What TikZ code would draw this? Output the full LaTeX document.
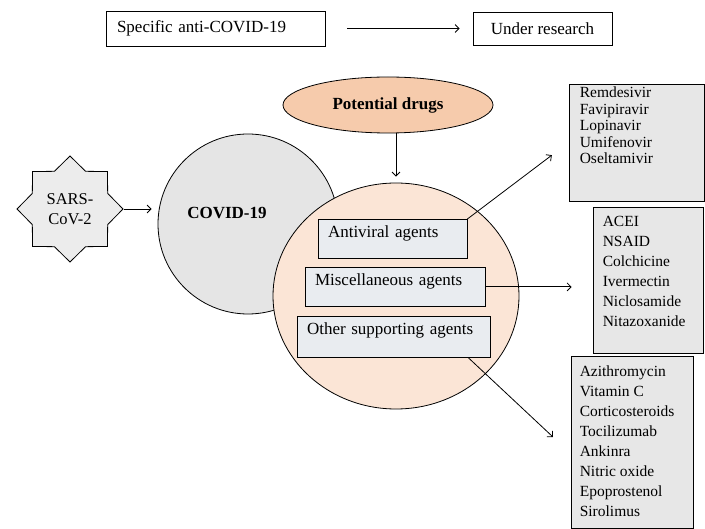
\documentclass[tikz,border=0pt]{standalone}
\usepackage{fontspec}
\setmainfont{Liberation Serif}
\usetikzlibrary{shapes.geometric,arrows.meta}

\definecolor{peachlight}{RGB}{251,229,214}
\definecolor{peach}{RGB}{246,203,172}
\definecolor{covgray}{RGB}{229,229,229}
\definecolor{stargray}{RGB}{236,236,236}
\definecolor{listgray}{RGB}{231,231,231}
\definecolor{agentgray}{RGB}{233,236,240}

\tikzset{
  plainbox/.style={draw, fill=white, line width=0.8pt, font=\fontsize{17}{20}\selectfont},
  agentbox/.style={draw, fill=agentgray, line width=0.8pt, anchor=north, align=left,
    inner xsep=10pt, inner ysep=3pt, text height=15pt, text depth=18pt,
    font=\fontsize{17}{20}\selectfont},
  listbox/.style={draw, fill=listgray, line width=0.8pt},
  listtext/.style={anchor=north west, align=left, inner sep=0pt},
  link/.style={->, >={Straight Barb[length=4pt,width=8pt]}, line width=0.8pt}
}

\begin{document}
\begin{tikzpicture}[x=1pt,y=-1pt]
\useasboundingbox (0,0) rectangle (705,529);

% top row
\node[plainbox, minimum width=219pt, minimum height=35pt, text width=197pt, inner xsep=11pt, align=left] (spec) at (215.5,28.5) {Specific anti-COVID-19};
\node[plainbox, minimum width=139pt, minimum height=33pt] (under) at (542.5,28.5) {Under research};
\draw[link, shorten <=22pt, shorten >=13pt] (spec.east) -- (under.west);

% virus and disease
\node[draw, fill=covgray, circle, minimum size=180pt, line width=0.8pt] (covid) at (248,224) {};
\node[font=\fontsize{17}{20}\selectfont\bfseries] (covidtext) at (227,213) {COVID-19};
\node[draw, fill=stargray, star, star points=8, star point ratio=1.3, minimum size=106pt,
  inner sep=0pt, align=center, line width=0.8pt, font=\fontsize{16.5}{20}\selectfont] (sars) at (70,209) {SARS-\\CoV-2};
\draw[link, shorten >=6pt] (sars.east) -- (sars.east -| covid.west);

% drugs
\node[draw, fill=peach, ellipse, minimum width=210pt, minimum height=56pt, line width=0.8pt,
  font=\fontsize{17}{20}\selectfont\bfseries] (drugs) at (388,105) {Potential drugs};
\node[draw, fill=peachlight, ellipse, minimum width=246pt, minimum height=226pt, line width=0.8pt] (agents) at (396,296) {};
\draw[link, shorten >=6pt] (drugs.south -| agents.north) -- (agents.north);

\node[agentbox, minimum width=149pt, text width=129pt] (antiviral) at (392.5,219) {Antiviral agents};
\node[agentbox, minimum width=180pt, text width=160pt] (misc) at (395,267) {Miscellaneous agents};
\node[agentbox, minimum width=193pt, text width=173pt, text depth=20pt] (other) at (393.5,316) {Other supporting agents};

% lists
\node[listbox, minimum width=135pt, minimum height=117pt] (rembox) at (636.5,142.5) {};
\node[listtext, font=\fontsize{15.5}{16.5}\selectfont] (remlist) at ([xshift=11pt,yshift=-3pt]rembox.north west)
  {Remdesivir\\Favipiravir\\Lopinavir\\Umifenovir\\Oseltamivir};
\node[listbox, minimum width=110pt, minimum height=146pt] (acebox) at (648,280) {};
\node[listtext, font=\fontsize{15.5}{20}\selectfont] (acelist) at ([xshift=10pt,yshift=-9pt]acebox.north west)
  {ACEI\\NSAID\\Colchicine\\Ivermectin\\Niclosamide\\Nitazoxanide};
\node[listbox, minimum width=122pt, minimum height=172pt] (supbox) at (632,442) {};
\node[listtext, font=\fontsize{15.5}{20}\selectfont] (suplist) at ([xshift=9pt,yshift=-10pt]supbox.north west)
  {Azithromycin\\Vitamin C\\Corticosteroids\\Tocilizumab\\Ankinra\\Nitric oxide\\Epoprostenol\\Sirolimus};

\coordinate (suptip) at (553,437);
\draw[link, shorten >=21pt] (antiviral.north east) -- (rembox.west);
\draw[link, shorten >=21pt] (misc.east) -- (misc.east -| acebox.west);
\draw[link] ([xshift=-22pt]other.south east) -- (suptip);
\end{tikzpicture}
\end{document}
